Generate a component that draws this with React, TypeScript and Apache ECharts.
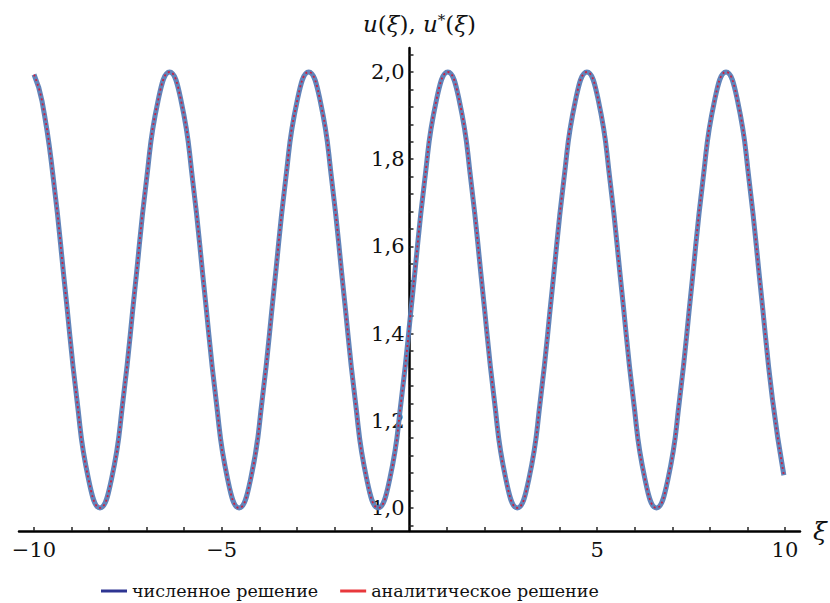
import React, { useEffect, useRef } from "react";
import * as echarts from "echarts";

// ξ sample positions
const xi: number[] = [
  -10.0, -9.786, -9.478, -9.169, -8.86, -8.551, -8.243, -7.934, -7.625, -7.316, -7.008, -6.699,
  -6.39, -6.081, -5.773, -5.464, -5.155, -4.846, -4.538, -4.229, -3.92, -3.611, -3.303, -2.994,
  -2.685, -2.376, -2.068, -1.759, -1.45, -1.141, -0.833, -0.524, -0.215, 0.094, 0.402, 0.711,
  1.02, 1.329, 1.637, 1.946, 2.255, 2.564, 2.872, 3.181, 3.49, 3.799, 4.107, 4.416,
  4.725, 5.034, 5.342, 5.651, 5.96, 6.269, 6.577, 6.886, 7.195, 7.504, 7.812, 8.121,
  8.43, 8.739, 9.047, 9.356, 9.665, 9.97,
];

// numerical solution u(ξ)
const uNumerical: number[] = [
  1.994, 1.933, 1.75, 1.5, 1.25, 1.067, 1.0, 1.067, 1.25, 1.5, 1.75, 1.933,
  2.0, 1.933, 1.75, 1.5, 1.25, 1.067, 1.0, 1.067, 1.25, 1.5, 1.75, 1.933,
  2.0, 1.933, 1.75, 1.5, 1.25, 1.067, 1.0, 1.067, 1.25, 1.5, 1.75, 1.933,
  2.0, 1.933, 1.75, 1.5, 1.25, 1.067, 1.0, 1.067, 1.25, 1.5, 1.75, 1.933,
  2.0, 1.933, 1.75, 1.5, 1.25, 1.067, 1.0, 1.067, 1.25, 1.5, 1.75, 1.933,
  2.0, 1.933, 1.75, 1.5, 1.25, 1.075,
];

// analytic solution u*(ξ)
const uAnalytic: number[] = [
  1.994, 1.933, 1.75, 1.5, 1.25, 1.067, 1.0, 1.067, 1.25, 1.5, 1.75, 1.933,
  2.0, 1.933, 1.75, 1.5, 1.25, 1.067, 1.0, 1.067, 1.25, 1.5, 1.75, 1.933,
  2.0, 1.933, 1.75, 1.5, 1.25, 1.067, 1.0, 1.067, 1.25, 1.5, 1.75, 1.933,
  2.0, 1.933, 1.75, 1.5, 1.25, 1.067, 1.0, 1.067, 1.25, 1.5, 1.75, 1.933,
  2.0, 1.933, 1.75, 1.5, 1.25, 1.067, 1.0, 1.067, 1.25, 1.5, 1.75, 1.933,
  2.0, 1.933, 1.75, 1.5, 1.25, 1.075,
];

const seriesNames: string[] = ["численное решение", "аналитическое решение"];

const xLabelValues: number[] = [-10, -5, 5, 10];
const xTickValues: number[] = [
  -10, -9, -8, -7, -6, -5, -4, -3, -2, -1, 1, 2, 3, 4, 5, 6, 7, 8, 9, 10,
];
const yLabelValues: number[] = [1.0, 1.2, 1.4, 1.6, 1.8, 2.0];
const yTickValues: number[] = [
  0.96, 1.0, 1.04, 1.08, 1.12, 1.16, 1.2, 1.24, 1.28, 1.32, 1.36, 1.4, 1.44, 1.48, 1.52,
  1.56, 1.6, 1.64, 1.68, 1.72, 1.76, 1.8, 1.84, 1.88, 1.92, 1.96, 2.0, 2.04,
];

const FONT = "DejaVu Serif";
const LEGEND_ICON = "path://M0,0 L26,0 L26,3 L0,3 Z";

const GRID_LEFT = 19;
const GRID_RIGHT = 30;
const X_MIN = -10.4;
const X_MAX = 10.4;

export default function App() {
  const ref = useRef<HTMLDivElement>(null);

  useEffect(() => {
    if (!ref.current) return;
    const chart = echarts.init(ref.current, null, { renderer: "svg" });
    const numData = xi.map((x, i) => [x, uNumerical[i]]);
    const anaData = xi.map((x, i) => [x, uAnalytic[i]]);
    const plotW = 830 - GRID_LEFT - GRID_RIGHT;
    const yAxisOffset = -((0 - X_MIN) / (X_MAX - X_MIN)) * plotW;

    chart.setOption({
      animation: false,
      backgroundColor: "#ffffff",
      textStyle: { fontFamily: FONT },
      grid: {
        left: GRID_LEFT,
        right: GRID_RIGHT,
        top: 48,
        bottom: 72,
        containLabel: false,
        outerBoundsMode: "none",
      },
      legend: {
        top: 577,
        left: 96,
        itemWidth: 26,
        itemHeight: 3,
        itemGap: 22,
        textStyle: { fontFamily: FONT, fontSize: 17.5, color: "#111" },
        data: [
          { name: seriesNames[0], icon: LEGEND_ICON, itemStyle: { color: "#2e3592" } },
          { name: seriesNames[1], icon: LEGEND_ICON, itemStyle: { color: "#e8383c" } },
        ],
      },
      xAxis: {
        type: "value",
        min: X_MIN,
        max: X_MAX,
        name: "ξ",
        nameLocation: "end",
        nameGap: 13,
        nameTextStyle: {
          fontFamily: FONT,
          fontSize: 25,
          fontStyle: "italic",
          color: "#111",
          verticalAlign: "middle",
          padding: [6, 0, 0, 0],
        },
        axisLine: { onZero: false, lineStyle: { color: "#000", width: 2.5 } },
        axisTick: {
          show: true,
          inside: true,
          length: 4,
          customValues: xTickValues,
          lineStyle: { color: "#222", width: 1.5 },
        },
        axisLabel: {
          customValues: xLabelValues,
          margin: 8,
          fontFamily: FONT,
          fontSize: 21,
          color: "#111",
          formatter: (v: number) => (v < 0 ? "\u2212" + Math.abs(v) : String(v)),
        },
        splitLine: { show: false },
      },
      yAxis: {
        type: "value",
        position: "left",
        offset: yAxisOffset,
        min: 0.947,
        max: 2.055,
        name: "{i|u}{n|(}{i|ξ}{n|), }{i|u}{s|*}{n|(}{i|ξ}{n|)}",
        nameLocation: "end",
        nameGap: 12,
        nameTextStyle: {
          align: "center",
          padding: [0, 0, 0, 20],
          rich: {
            i: { fontFamily: FONT, fontSize: 23, fontStyle: "italic", color: "#111" },
            n: { fontFamily: FONT, fontSize: 23, color: "#111" },
            s: {
              fontFamily: FONT,
              fontSize: 15,
              color: "#111",
              verticalAlign: "top",
              padding: [0, 0, 9, 0],
            },
          },
        },
        axisLine: { onZero: false, lineStyle: { color: "#000", width: 2.5 } },
        axisTick: {
          show: true,
          inside: true,
          length: 4,
          customValues: yTickValues,
          lineStyle: { color: "#222", width: 1.5 },
        },
        axisLabel: {
          customValues: yLabelValues,
          margin: 5,
          fontFamily: FONT,
          fontSize: 21,
          color: "#111",
          formatter: (v: number) => v.toFixed(1).replace(".", ","),
        },
        splitLine: { show: false },
      },
      series: [
        {
          name: seriesNames[0],
          type: "line",
          data: numData,
          smooth: 0.5,
          showSymbol: false,
          symbol: "none",
          color: "#2e3592",
          lineStyle: { color: "#5a7db6", width: 5, opacity: 0.95 },
          z: 2,
        },
        {
          name: seriesNames[1],
          type: "line",
          data: anaData,
          smooth: 0.5,
          showSymbol: false,
          symbol: "none",
          color: "#e8383c",
          lineStyle: { color: "#cc2040", width: 1.8, type: [2, 3] },
          z: 3,
        },
      ],
    });
    return () => chart.dispose();
  }, []);

  return (
    <div
      ref={ref}
      style={{ position: "fixed", left: 0, top: 0, width: 830, height: 603 }}
    />
  );
}
